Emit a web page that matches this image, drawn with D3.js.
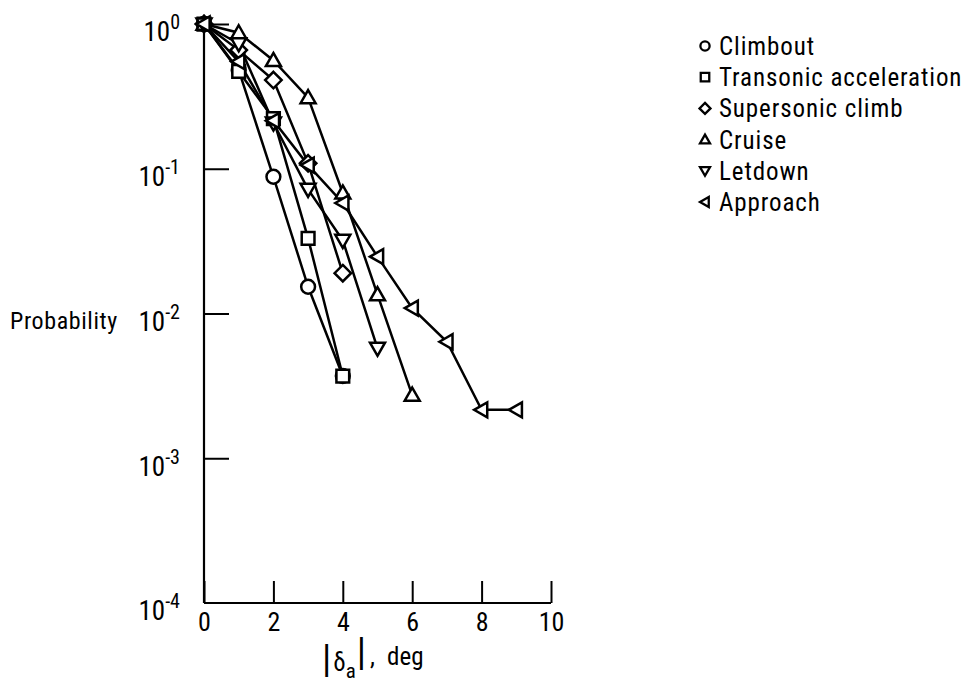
<!DOCTYPE html>
<html>
<head>
<meta charset="utf-8">
<script src="https://cdn.jsdelivr.net/npm/d3@7"></script>
<style>
  html, body { margin: 0; padding: 0; background: #fff; }
  svg { display: block; }
  text { font-family: "Liberation Sans Narrow", "Roboto Condensed", "DejaVu Sans Condensed", sans-serif; fill: #000; }
</style>
</head>
<body>
<svg id="chart" width="969" height="687"></svg>
<script>
// ---- data ----
const xValues = [0, 1, 2, 3, 4, 5, 6, 7, 8, 9];
const climbout   = [1.0, 0.48, 0.088, 0.0153, 0.0037];
const transonic  = [1.0, 0.47, 0.222, 0.033, 0.0037];
const supersonic = [1.0, 0.66, 0.41, 0.109, 0.019];
const cruise     = [1.0, 0.87, 0.56, 0.31, 0.068, 0.0135, 0.00273];
const letdown    = [1.0, 0.73, 0.207, 0.072, 0.032, 0.00575];
const approach   = [1.0, 0.55, 0.215, 0.106, 0.058, 0.0247, 0.0109, 0.00638, 0.00216, 0.00216];
const seriesNames = ["Climbout", "Transonic acceleration", "Supersonic climb", "Cruise", "Letdown", "Approach"];
const seriesShapes = ["circle", "square", "diamond", "up", "down", "left"];
const xTicks = [0, 2, 4, 6, 8, 10];
const yTickExponents = [0, -1, -2, -3, -4];

const seriesValues = [climbout, transonic, supersonic, cruise, letdown, approach];
const series = seriesNames.map((name, i) => ({
  name, shape: seriesShapes[i],
  points: seriesValues[i].map((v, j) => ({ x: xValues[j], y: v }))
}));

const svg = d3.select("#chart");
const x = d3.scaleLinear().domain([0, 10]).range([204, 551]);
const y = d3.scaleLog().domain([1e-4, 1]).range([603, 24]);

// ---- axes ----
const xAxis = d3.axisBottom(x).tickValues(xTicks).tickSize(-22).tickPadding(10)
  .tickFormat(d3.format("d"));
const gx = svg.append("g").attr("transform", `translate(0,${y(1e-4)})`).call(xAxis);
gx.select(".domain").attr("d", `M${x(0)},0H${x(10)}`).attr("stroke", "#000").attr("stroke-width", 2.2);
gx.selectAll(".tick line").attr("stroke", "#000").attr("stroke-width", 2);
gx.selectAll(".tick text").style("font-size", "26px").attr("dy", "0.71em");

const yAxis = d3.axisLeft(y).tickValues(yTickExponents.map(e => Math.pow(10, e))).tickSize(-25).tickPadding(24)
  .tickFormat(() => "");
const gy = svg.append("g").attr("transform", `translate(${x(0)},0)`).call(yAxis);
gy.select(".domain").attr("d", `M0,${y(1)}V${y(1e-4)}`).attr("stroke", "#000").attr("stroke-width", 2.2);
gy.selectAll(".tick line").attr("stroke", "#000").attr("stroke-width", 2)
  .attr("display", d => (d === 1e-4 ? "none" : null));
gy.selectAll(".tick text").each(function (d) {
  const t = d3.select(this).style("font-size", "27px").attr("dy", "0.62em");
  const e = Math.round(Math.log10(d));
  t.text(null);
  t.append("tspan").text("10");
  t.append("tspan").attr("dy", "-0.6em").style("font-size", "20px").text(e === 0 ? "0" : "-" + Math.abs(e));
});

// axis titles
svg.append("text").attr("x", 10).attr("y", 329).style("font-size", "24px")
  .style("letter-spacing", "0.6px").text("Probability");
const xt = svg.append("text").attr("x", 322).attr("y", 670).style("font-size", "25px");
xt.append("tspan").style("font-size", "38px").attr("dy", "0.05em").text("|");
xt.append("tspan").attr("dy", "-0.05em").attr("dx", "2").text("δ");
xt.append("tspan").attr("dy", "0.35em").style("font-size", "21px").text("a");
xt.append("tspan").attr("dy", "-0.35em").attr("dx", "1").style("font-size", "38px").text("|");
xt.append("tspan").attr("dx", "4").text(",");
xt.append("tspan").attr("dx", "12").text("deg");

// ---- markers ----
function markerPath(shape, s) {
  switch (shape) {
    case "circle": return d3.symbol(d3.symbolCircle, Math.PI * s * s * 0.85)();
    case "square": return `M${-s * 0.85},${-s * 0.85}H${s * 0.85}V${s * 0.85}H${-s * 0.85}Z`;
    case "diamond": return `M0,${-s * 1.1}L${s * 1.1},0L0,${s * 1.1}L${-s * 1.1},0Z`;
    case "up": return `M0,${-s}L${s},${s * 0.75}L${-s},${s * 0.75}Z`;
    case "down": return `M0,${s}L${s},${-s * 0.75}L${-s},${-s * 0.75}Z`;
    case "left": return `M${-s},0L${s * 0.75},${-s}L${s * 0.75},${s}Z`;
  }
}

const line = d3.line().x(d => x(d.x)).y(d => y(d.y)).curve(d3.curveLinear);
const gs = svg.append("g");
series.forEach(s => {
  gs.append("path").attr("d", line(s.points)).attr("fill", "none")
    .attr("stroke", "#000").attr("stroke-width", 2.5);
});
series.forEach(s => {
  gs.selectAll(null).data(s.points).enter().append("path")
    .attr("transform", d => `translate(${x(d.x)},${y(d.y)})`)
    .attr("d", markerPath(s.shape, 7.5))
    .attr("fill", "#fff").attr("stroke", "#000").attr("stroke-width", 2.5);
});

// ---- legend ----
const lg = svg.append("g");
series.forEach((s, i) => {
  const ly = 46 + i * 31.2;
  lg.append("path").attr("transform", `translate(705,${ly})`).attr("d", markerPath(s.shape, 5))
    .attr("fill", "#fff").attr("stroke", "#000").attr("stroke-width", 2.3);
  lg.append("text").attr("x", 719).attr("y", ly).attr("dy", "0.36em")
    .style("font-size", "25px").style("letter-spacing", "0.9px").text(s.name);
});
</script>
</body>
</html>
